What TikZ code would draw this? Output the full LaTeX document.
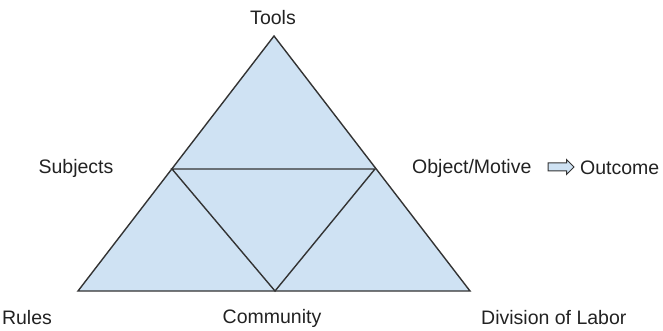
\documentclass[tikz,border=0pt]{standalone}
\usepackage{fontspec}
\setmainfont{Liberation Sans}
\usetikzlibrary{shapes.arrows}
\definecolor{fillblue}{HTML}{CFE2F3}
\definecolor{edge}{HTML}{333333}
\definecolor{txt}{HTML}{222222}
\begin{document}
\begin{tikzpicture}[x=1pt,y=-1pt,
  lbl/.style={font=\fontsize{19.5}{22}\selectfont, text=txt, inner sep=0pt},
  tri/.style={draw=edge, line width=1.4pt, fill=fillblue, line join=miter},
  inner/.style={draw=edge, line width=1.4pt},
  blockarrow/.style={single arrow, draw=edge, fill=fillblue, line width=1pt,
    minimum height=26pt, inner xsep=0pt, inner ysep=3.5pt, text width=0pt,
    single arrow head extend=3.5pt}]
\useasboundingbox (0,0) rectangle (663,331);
\coordinate (A) at (274,36);
\coordinate (BL) at (78,291);
\coordinate (BR) at (470,291);
\coordinate (ML) at (172,169);
\coordinate (MR) at (375,169);
\coordinate (MB) at (275,291);
\filldraw[tri] (A) -- (BR) -- (BL) -- cycle;
\draw[inner] (ML) -- (MR) -- (MB) -- cycle;
\node[lbl] (tools) at (273,18) {Tools};
\node[lbl] (subj) at (76,168) {Subjects};
\node[lbl, anchor=west] (obj) at (412,168) {Object/Motive};
\node[blockarrow] (arr) at (559,167) {};
\node[lbl, anchor=west] (out) at (580,168) {Outcome};
\node[lbl] (rules) at (27,318) {Rules};
\node[lbl] (comm) at (272,318) {Community};
\node[lbl, anchor=west] (div) at (481,318) {Division of Labor};
\end{tikzpicture}
\end{document}
